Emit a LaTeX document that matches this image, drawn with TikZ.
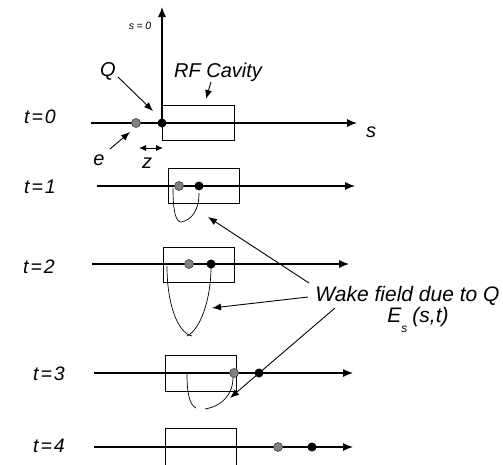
\documentclass[tikz,border=0pt]{standalone}
\usepackage{fontspec}
\setmainfont{Liberation Sans}
\usetikzlibrary{arrows.meta}
\begin{document}
\begin{tikzpicture}[x=1pt,y=-1pt,
  axis/.style={line width=1.1pt,-{Latex[length=10pt,width=8pt]}},
  cav/.style={draw,line width=0.9pt,inner sep=0pt,outer sep=0pt,anchor=north west},
  wake/.style={line width=0.7pt},
  ptr/.style={line width=0.9pt,-{Latex[length=9pt,width=7pt]}},
  qdot/.style={circle,fill=black,inner sep=0pt,minimum size=9pt},
  edot/.style={circle,draw=black!75,fill=black!50,line width=0.6pt,inner sep=0pt,minimum size=9pt},
  lbl/.style={font=\itshape\fontsize{20}{22}\selectfont,inner sep=0pt,anchor=base},
  tlbl/.style={font=\itshape\fontsize{19.5}{21}\selectfont,inner sep=0pt,anchor=base},
  slbl/.style={font=\itshape\fontsize{10.5}{12}\selectfont,inner sep=0pt,anchor=base}]
\useasboundingbox (0,0) rectangle (503,464);
\clip (0,0) rectangle (503,464);

% ---------- t=0 ----------
\node[cav,minimum width=72pt,minimum height=35pt] (box0) at (162,105) {};
\coordinate (a0s) at (91,123); \coordinate (a0e) at (357,123);
\draw[axis] (a0s) -- (a0e);
\coordinate (v0s) at (162,123); \coordinate (v0e) at (162,7);
\draw[axis] (v0s) -- (v0e);
\node[slbl] (s0lbl) at (140,29) {s\hspace{2.5pt}=\hspace{2.5pt}0};
\node[lbl] (slbl) at (371,137) {s};
\node[tlbl] (t0) at (40,123) {t\hspace{2pt}=\hspace{2pt}0};
\node[edot] (e0) at (136,123) {};
\node[qdot] (q0) at (162,123) {};
\node[lbl] (Qlbl) at (108,76) {Q};
\coordinate (Qs) at (118,77); \coordinate (Qe) at (153,111);
\draw[ptr] (Qs) -- (Qe);
\node[lbl] (rflbl) at (218,77) {RF Cavity};
\coordinate (rfs) at (211,82); \coordinate (rfe) at (206,99);
\draw[ptr] (rfs) -- (rfe);
\node[lbl] (elbl) at (99,165) {e};
\coordinate (es) at (110,149); \coordinate (ee) at (130,132);
\draw[ptr] (es) -- (ee);
\coordinate (zs) at (139,148); \coordinate (ze) at (163,148);
\draw[line width=0.9pt,{Latex[length=7pt,width=6pt]}-{Latex[length=7pt,width=6pt]}] (zs) -- (ze);
\node[lbl] (zlbl) at (147,168) {z};

% ---------- t=1 ----------
\node[cav,minimum width=71pt,minimum height=35pt] (box1) at (168,168) {};
\coordinate (a1s) at (97,186); \coordinate (a1e) at (355,186);
\draw[axis] (a1s) -- (a1e);
\node[tlbl] (t1) at (40,193) {t\hspace{2pt}=\hspace{2pt}1};
\draw[wake] (173,188) .. controls (173,212) and (176,222) .. (181,222)
                      .. controls (192,220) and (199,210) .. (199,193);
\node[edot] (e1) at (179,186) {};
\node[qdot] (q1) at (199,186) {};

% ---------- t=2 ----------
\node[cav,minimum width=71pt,minimum height=35pt] (box2) at (163,247) {};
\coordinate (a2s) at (92,264); \coordinate (a2e) at (349,264);
\draw[axis] (a2s) -- (a2e);
\node[tlbl] (t2) at (39,273) {t\hspace{2pt}=\hspace{2pt}2};
\draw[wake] (167,266) .. controls (167,305) and (178,333) .. (192,336);
\draw[wake] (187,336) .. controls (200,330) and (211,300) .. (211,267);
\node[edot] (e2) at (189,264) {};
\node[qdot] (q2) at (211,264) {};

% ---------- t=3 ----------
\node[cav,minimum width=71pt,minimum height=36pt] (box3) at (165,355) {};
\coordinate (a3s) at (94,373); \coordinate (a3e) at (353,373);
\draw[axis] (a3s) -- (a3e);
\node[tlbl] (t3) at (49,380) {t\hspace{2pt}=\hspace{2pt}3};
\draw[wake] (187,374) .. controls (187,395) and (190,405) .. (196,408);
\draw[wake] (205,409) .. controls (222,406) and (233,395) .. (233,377);
\node[edot] (e3) at (234,373) {};
\node[qdot] (q3) at (259,373) {};

% ---------- t=4 ----------
\node[cav,minimum width=71pt,minimum height=42pt] (box4) at (165,428) {};
\coordinate (a4s) at (94,447); \coordinate (a4e) at (353,447);
\draw[axis] (a4s) -- (a4e);
\node[tlbl] (t4) at (49,452) {t\hspace{2pt}=\hspace{2pt}4};
\node[edot] (e4) at (278,447) {};
\node[qdot] (q4) at (312,447) {};

% ---------- wake field label ----------
\node[inner sep=0pt,align=center,anchor=base,
      font=\itshape\fontsize{21}{17}\selectfont] (wk) at (407.5,322)
  {Wake field due to Q\\\hspace*{21pt}E\raisebox{-10pt}{\fontsize{12}{12}\selectfont s}\hspace{5pt}(s,t)};
\coordinate (w1s) at (309,283); \coordinate (w1e) at (208,217);
\coordinate (w2s) at (308,297); \coordinate (w2e) at (212,308);
\coordinate (w3s) at (335,308); \coordinate (w3e) at (230,398);
\draw[ptr] (w1s) -- (w1e);
\draw[ptr] (w2s) -- (w2e);
\draw[ptr] (w3s) -- (w3e);
\end{tikzpicture}
\end{document}
